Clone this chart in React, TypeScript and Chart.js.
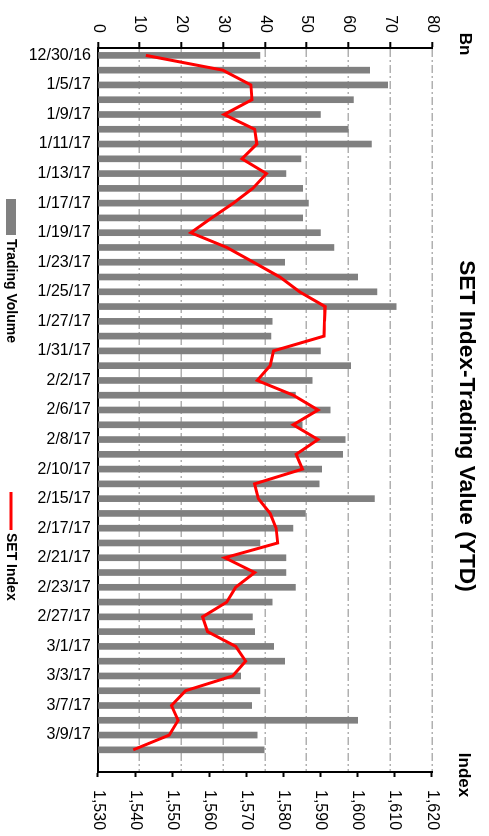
import React, { useEffect, useRef } from 'react';
import { Chart, registerables } from 'chart.js';

Chart.register(...registerables);

const FONT = '"Liberation Sans", Arial, sans-serif';

const categories = [
  '12/30/16', '1/4/17', '1/5/17', '1/6/17', '1/9/17', '1/10/17', '1/11/17', '1/12/17',
  '1/13/17', '1/16/17', '1/17/17', '1/18/17', '1/19/17', '1/20/17', '1/23/17', '1/24/17',
  '1/25/17', '1/26/17', '1/27/17', '1/30/17', '1/31/17', '2/1/17', '2/2/17', '2/3/17',
  '2/6/17', '2/7/17', '2/8/17', '2/9/17', '2/10/17', '2/14/17', '2/15/17', '2/16/17',
  '2/17/17', '2/20/17', '2/21/17', '2/22/17', '2/23/17', '2/24/17', '2/27/17', '2/28/17',
  '3/1/17', '3/2/17', '3/3/17', '3/6/17', '3/7/17', '3/8/17', '3/9/17', '3/10/17', '',
];

const tradingVolume = [
  38.8, 65.1, 69.4, 61.2, 53.3, 59.9, 65.5, 48.6,
  45.0, 49.0, 50.4, 49.0, 53.3, 56.5, 44.7, 62.2,
  66.8, 71.4, 41.7, 41.4, 53.3, 60.5, 51.3, 47.3,
  55.6, 48.9, 59.2, 58.6, 53.6, 53.0, 66.2, 49.7,
  46.7, 38.8, 45.0, 45.0, 47.3, 41.7, 37.0, 37.5,
  42.1, 44.7, 34.2, 38.8, 36.8, 62.2, 38.1, 39.8,
];

const setIndex = [
  1542.9, 1563.6, 1571.2, 1571.5, 1564.0, 1572.2, 1572.8, 1568.8,
  1575.4, 1571.7, 1566.5, 1560.6, 1555.0, 1564.7, 1571.9, 1579.0,
  1584.3, 1591.2, 1591.0, 1590.9, 1577.3, 1576.4, 1572.9, 1582.6,
  1589.3, 1582.6, 1589.3, 1583.4, 1585.1, 1572.2, 1573.2, 1576.4,
  1578.0, 1578.4, 1564.2, 1572.2, 1567.1, 1564.7, 1558.2, 1559.5,
  1567.1, 1569.8, 1566.3, 1553.6, 1549.8, 1551.6, 1549.2, 1539.5,
];

const seriesNames = ['Trading Volume', 'SET Index'];
const chartTitle = 'SET Index-Trading Value (YTD)';
const leftAxisUnit = 'Bn';
const rightAxisUnit = 'Index';

const volumeRange = { min: 0, max: 80, step: 10 };
const indexRange = { min: 1530, max: 1620, step: 10 };

const W = 836;
const H = 489;

const overlayPlugin = {
  id: 'overlayText',
  afterDraw(chart: any) {
    const { ctx, chartArea } = chart;
    ctx.save();
    ctx.fillStyle = '#000';
    ctx.textBaseline = 'middle';
    ctx.textAlign = 'center';
    ctx.font = `bold 22.7px ${FONT}`;
    ctx.fillText(chartTitle, W / 2 + 8, 23);
    ctx.font = `bold 17px ${FONT}`;
    ctx.fillText(leftAxisUnit, chartArea.left - 4, 24);
    ctx.fillText(rightAxisUnit, chartArea.right + 3, 25);

    // legend
    const ly = 478;
    ctx.font = `bold 14px ${FONT}`;
    ctx.textAlign = 'left';
    ctx.fillStyle = '#808080';
    ctx.fillRect(199, ly - 5, 36, 10);
    ctx.fillStyle = '#000';
    ctx.fillText(seriesNames[0], 239, ly);
    ctx.strokeStyle = '#ff0000';
    ctx.lineWidth = 3;
    ctx.beginPath();
    ctx.moveTo(492, ly);
    ctx.lineTo(530, ly);
    ctx.stroke();
    ctx.fillText(seriesNames[1], 533, ly);
    ctx.restore();
  },
};

export default function App() {
  const ref = useRef<HTMLCanvasElement | null>(null);

  useEffect(() => {
    if (!ref.current) return;
    const chart = new Chart(ref.current, {
      type: 'bar',
      data: {
        labels: categories,
        datasets: [
          {
            type: 'line',
            label: seriesNames[1],
            data: setIndex,
            yAxisID: 'y1',
            borderColor: '#ff0000',
            backgroundColor: '#ff0000',
            borderWidth: 3,
            pointRadius: 0,
            tension: 0,
            order: 0,
          } as any,
          {
            type: 'bar',
            label: seriesNames[0],
            data: tradingVolume,
            yAxisID: 'y',
            backgroundColor: '#808080',
            borderWidth: 0,
            barThickness: 6,
            order: 1,
          } as any,
        ],
      },
      options: {
        responsive: false,
        animation: false,
        layout: { padding: { top: 57, bottom: 18, left: 0, right: 0 } },
        plugins: {
          legend: { display: false },
          title: { display: false },
          tooltip: { enabled: false },
        },
        scales: {
          x: {
            offset: true,
            grid: { display: false, drawTicks: false },
            border: { display: true, color: '#000', width: 2 },
            ticks: {
              autoSkip: false,
              minRotation: 90,
              maxRotation: 90,
              padding: 7,
              color: '#000',
              font: { family: FONT, size: 16 },
              callback: (_v: any, i: number) => (i % 2 === 0 ? categories[i] : ''),
            },
            afterFit: (s: any) => {
              s.height = 80;
            },
          },
          y: {
            position: 'left',
            min: volumeRange.min,
            max: volumeRange.max,
            grid: {
              color: '#b0b0b0',
              lineWidth: 1.4,
              drawTicks: true,
              tickLength: 6,
              tickColor: '#000',
              tickWidth: 2,
            },
            border: { display: true, color: '#000', width: 2, dash: [8, 3, 2, 3] },
            ticks: {
              stepSize: volumeRange.step,
              padding: 9,
              color: '#000',
              font: { family: FONT, size: 16 },
            },
            afterFit: (s: any) => {
              s.width = 48;
            },
          },
          y1: {
            position: 'right',
            min: indexRange.min,
            max: indexRange.max,
            grid: {
              drawOnChartArea: false,
              drawTicks: true,
              tickLength: 5,
              tickColor: '#000',
              tickWidth: 2,
            },
            border: { display: true, color: '#000', width: 2 },
            ticks: {
              stepSize: indexRange.step,
              padding: 13,
              color: '#000',
              font: { family: FONT, size: 16 },
              callback: (v: any) => Number(v).toLocaleString('en-US'),
            },
            afterFit: (s: any) => {
              s.width = 64;
            },
          },
        },
      } as any,
      plugins: [overlayPlugin],
    });
    return () => chart.destroy();
  }, []);

  return (
    <div
      style={{
        position: 'fixed',
        left: 0,
        top: 0,
        width: W,
        height: H,
        transformOrigin: '0 0',
        transform: `translate(${H}px, 0px) rotate(90deg)`,
        background: '#fff',
      }}
    >
      <canvas ref={ref} width={W} height={H} style={{ display: 'block', width: W, height: H }} />
    </div>
  );
}
